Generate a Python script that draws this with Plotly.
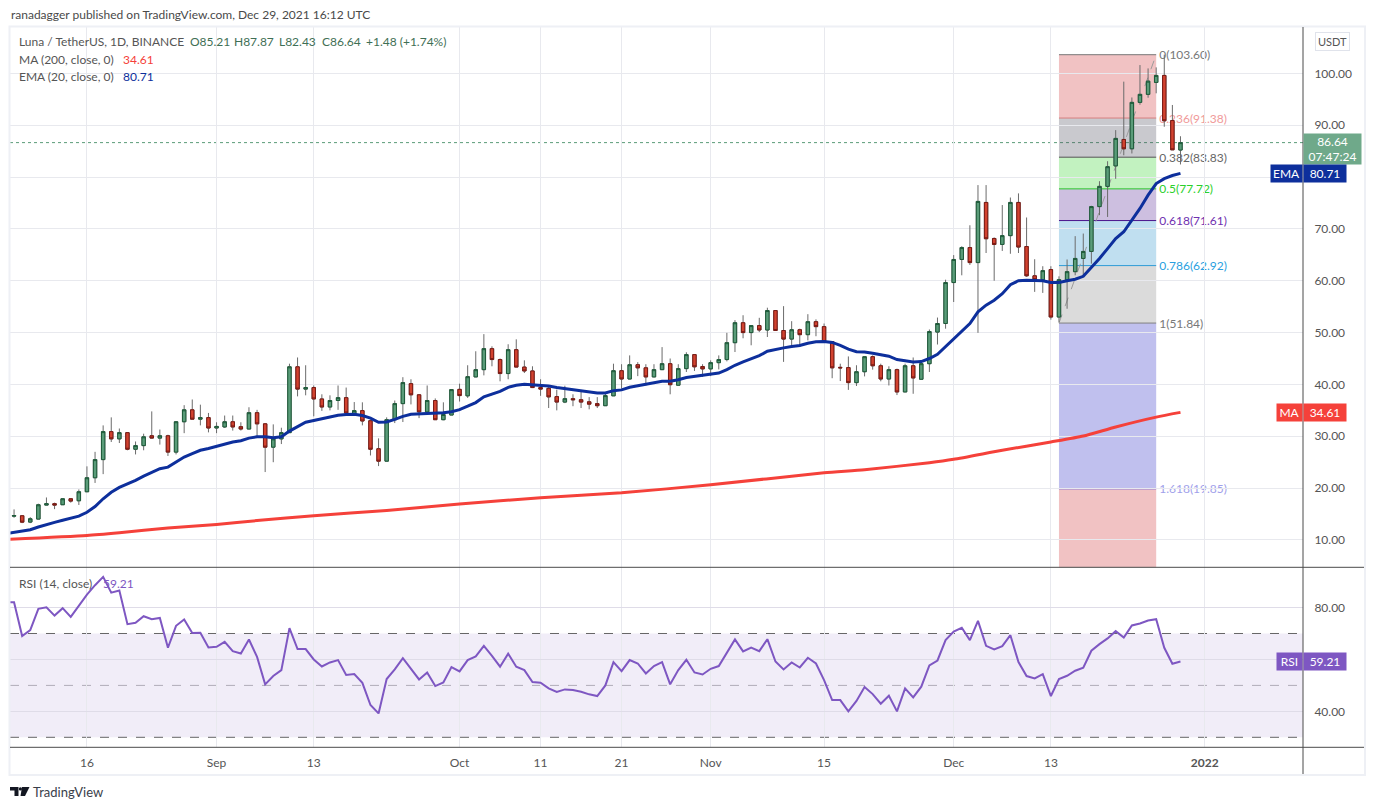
import pandas as pd
import plotly.graph_objects as go

W = 1374
H = 810
FONT = "Lato"

# daily candles, 7 Aug 2021 to 29 Dec 2021
open_px = [14.6, 14.67, 13.45, 14.03, 16.73, 17.0, 16.8, 17.95, 17.56, 19.3, 22.0, 25.5, 30.9, 29.5, 30.7, 27.5, 28.2, 30.1, 29.65, 30.1,
           26.95, 32.8, 35.1, 33.3, 33.6, 31.6, 31.8, 32.8, 31.85, 31.4, 34.55, 32.4, 27.9, 29.5, 30.7, 43.4, 39.1, 39.4, 37.2, 35.65,
           36.9, 37.45, 34.4, 34.95, 33.0, 27.6, 25.2, 33.2, 36.3, 40.15, 38.0, 34.7, 36.9, 33.2, 34.1, 39.05, 37.8, 41.45, 42.85, 46.9,
           44.8, 42.1, 46.7, 43.35, 42.6, 39.4, 39.25, 37.65, 36.6, 37.25, 37.05, 36.65, 36.3, 35.9, 37.8, 42.65, 41.05, 43.8, 43.2, 41.45,
           42.85, 44.0, 39.85, 43.05, 45.75, 43.45, 43.0, 44.2, 44.8, 48.05, 51.9, 50.0, 51.35, 50.5, 54.25, 50.4, 48.75, 50.55, 49.6, 52.1,
           51.15, 48.25, 43.3, 43.25, 40.35, 42.45, 45.35, 43.6, 41.05, 42.85, 38.55, 43.6, 41.0, 44.0, 50.1, 51.75, 59.65, 64.1, 66.4, 63.5,
           75.1, 68.15, 67.0, 68.7, 75.1, 66.6, 60.95, 60.2, 62.15, 53.0, 60.2, 61.75, 64.3, 65.65, 74.3, 78.2, 82.15, 87.25, 85.45, 94.4,
           95.95, 98.25, 99.6, 90.9, 85.21]
high_px = [15.9, 14.7, 14.4, 17.0, 18.2, 17.2, 18.0, 18.0, 19.75, 24.2, 27.0, 32.1, 33.65, 31.5, 30.8, 29.0, 30.5, 34.8, 31.3, 30.3,
           32.9, 36.0, 37.1, 36.1, 34.5, 32.7, 34.0, 34.0, 32.7, 35.6, 35.1, 32.55, 32.3, 31.65, 44.0, 45.2, 43.7, 39.8, 38.1, 37.9,
           39.8, 39.4, 36.6, 36.55, 33.1, 29.6, 33.65, 36.9, 41.4, 41.0, 38.1, 39.8, 37.3, 36.55, 39.0, 40.15, 43.7, 46.4, 49.7, 47.35,
           45.0, 47.75, 48.7, 44.65, 43.5, 41.0, 39.5, 39.0, 39.75, 38.1, 38.55, 37.55, 37.55, 38.3, 44.0, 43.9, 45.6, 44.3, 43.9, 43.9,
           47.2, 45.0, 43.9, 46.2, 45.75, 43.9, 44.65, 45.6, 49.95, 52.4, 53.35, 51.35, 52.85, 54.8, 54.25, 55.1, 52.2, 50.75, 53.55, 52.55,
           51.75, 48.25, 44.0, 45.4, 43.7, 45.35, 45.6, 44.0, 43.5, 43.05, 44.0, 45.2, 44.65, 50.6, 52.9, 60.2, 64.95, 66.65, 70.7, 78.45,
           78.45, 68.35, 74.6, 76.05, 76.85, 72.2, 64.15, 62.8, 62.8, 60.85, 64.1, 68.6, 69.1, 74.45, 79.2, 83.05, 89.05, 98.4, 95.35, 101.6,
           100.95, 101.15, 103.6, 93.9, 87.87]
low_px = [14.28, 13.25, 13.25, 14.0, 16.7, 15.95, 16.75, 17.2, 16.75, 19.3, 21.0, 22.7, 28.9, 28.7, 27.3, 26.5, 27.3, 29.6, 28.4, 26.2,
          26.5, 30.6, 33.3, 32.1, 30.75, 30.6, 31.6, 31.1, 31.1, 31.4, 29.85, 23.1, 25.0, 28.5, 30.7, 37.7, 37.9, 33.85, 34.9, 35.0,
          35.1, 34.4, 34.2, 32.1, 26.3, 24.25, 25.2, 32.55, 32.75, 36.15, 33.5, 34.1, 33.2, 33.1, 34.1, 36.7, 37.4, 41.4, 41.75, 43.5,
          40.6, 41.0, 43.35, 42.2, 39.3, 37.8, 35.45, 35.0, 36.4, 35.8, 35.45, 35.2, 35.45, 35.9, 37.8, 39.2, 41.0, 41.6, 39.8, 41.4,
          42.85, 38.1, 39.75, 42.4, 42.6, 41.45, 41.6, 42.9, 44.45, 46.25, 48.9, 47.55, 50.1, 49.15, 50.4, 44.35, 47.55, 47.25, 48.5, 49.3,
          48.25, 41.2, 40.65, 38.95, 39.7, 41.55, 42.85, 40.6, 39.8, 37.95, 38.55, 38.2, 41.0, 42.4, 47.7, 50.75, 55.9, 61.05, 63.05, 49.95,
          65.35, 60.0, 65.75, 65.2, 65.35, 60.75, 57.85, 57.65, 52.5, 52.0, 54.6, 61.05, 60.75, 63.3, 72.65, 72.3, 79.65, 84.2, 84.55, 93.95,
          95.3, 96.15, 89.7, 85.25, 82.43]
close_px = [14.7, 13.44, 14.09, 16.79, 17.0, 16.73, 17.95, 17.5, 19.3, 22.0, 25.5, 30.9, 29.5, 30.7, 27.5, 28.2, 29.9, 29.65, 30.1, 26.95,
            32.8, 35.1, 33.3, 33.6, 31.6, 31.9, 32.8, 31.8, 31.4, 34.55, 32.4, 27.9, 29.5, 30.7, 43.4, 39.1, 39.4, 37.2, 35.65, 36.9,
            37.45, 34.5, 34.95, 32.95, 27.5, 25.2, 33.2, 36.3, 40.35, 38.0, 34.7, 36.9, 33.2, 34.2, 39.0, 37.85, 41.5, 42.85, 46.9, 44.8,
            42.1, 46.7, 43.35, 42.6, 39.4, 39.1, 37.6, 36.6, 37.25, 37.05, 36.6, 36.2, 35.9, 37.85, 42.65, 41.05, 43.8, 43.2, 41.45, 42.85,
            44.0, 39.95, 43.05, 45.75, 43.4, 43.0, 44.2, 44.8, 48.05, 51.9, 50.0, 51.35, 50.5, 54.25, 50.4, 48.75, 50.55, 49.6, 52.1, 51.15,
            48.25, 43.2, 43.2, 40.35, 42.45, 45.35, 43.6, 41.05, 42.85, 38.55, 43.6, 41.25, 44.0, 50.2, 51.75, 59.65, 64.1, 66.4, 63.5, 75.3,
            68.1, 67.0, 68.7, 75.1, 66.5, 60.95, 60.2, 61.95, 53.0, 60.2, 61.75, 64.3, 65.65, 74.3, 78.2, 82.0, 87.45, 85.45, 94.4, 95.95,
            98.5, 99.6, 90.85, 85.25, 86.64]

# 20 day EMA, 6 Aug 2021 to 29 Dec 2021
ema_20 = [11.2, 11.5, 11.7, 11.97, 12.5, 13.0, 13.4, 13.8, 14.15, 14.6, 15.35, 16.45, 17.95, 19.2, 20.15, 20.8, 21.5, 22.3, 23.1, 23.75,
          24.05, 25.05, 26.0, 26.65, 27.3, 27.65, 28.05, 28.55, 28.9, 29.15, 29.65, 29.9, 29.9, 29.7, 29.9, 31.0, 31.9, 32.7, 33.05, 33.4,
          33.8, 34.05, 34.2, 34.25, 34.0, 33.5, 32.7, 32.75, 33.25, 33.85, 34.25, 34.3, 34.45, 34.45, 34.55, 34.75, 35.15, 35.8, 36.5, 37.6,
          38.2, 38.65, 39.45, 39.85, 40.05, 39.95, 39.9, 39.7, 39.4, 39.2, 39.05, 38.8, 38.55, 38.35, 38.35, 38.8, 38.95, 39.45, 39.75, 40.0,
          40.35, 40.6, 40.6, 40.9, 41.35, 41.55, 41.7, 41.95, 42.2, 42.85, 43.7, 44.35, 44.9, 45.55, 46.4, 46.8, 47.05, 47.3, 47.5, 47.95,
          48.25, 48.3, 48.1, 47.55, 46.8, 46.3, 46.25, 46.0, 45.7, 45.45, 44.8, 44.6, 44.35, 44.4, 45.0, 45.8, 47.25, 48.85, 50.25, 51.75,
          54.0, 55.3, 56.25, 57.5, 59.25, 60.0, 60.1, 60.1, 60.0, 59.65, 59.65, 60.0, 60.3, 60.85, 62.55, 64.3, 66.2, 68.15, 69.45, 71.7,
          73.95, 76.5, 78.75, 79.7, 80.3, 80.71]

# RSI 14, same dates as the EMA
rsi_14 = [82.05, 82.05, 69.0, 71.3, 79.5, 80.1, 76.9, 79.75, 76.4, 80.9, 85.0, 88.6, 91.8, 85.75, 86.55, 73.6, 74.1, 76.65, 75.5, 76.0,
          64.5, 72.95, 75.4, 70.15, 70.25, 64.6, 64.85, 66.8, 63.2, 62.3, 67.7, 61.0, 50.4, 53.6, 55.9, 72.05, 64.0, 64.0, 60.0, 57.3,
          58.85, 59.75, 54.0, 54.35, 51.0, 42.45, 39.2, 52.45, 56.15, 60.5, 56.55, 52.3, 55.0, 49.75, 51.15, 57.05, 55.4, 59.75, 61.15, 65.25,
          61.4, 57.2, 62.2, 57.2, 55.9, 51.3, 51.0, 48.85, 47.45, 48.45, 48.2, 47.55, 46.55, 45.9, 50.0, 58.95, 55.5, 59.75, 58.45, 54.6,
          57.45, 58.95, 50.4, 55.9, 59.85, 55.0, 54.2, 56.4, 57.45, 62.7, 67.7, 63.1, 64.6, 63.2, 67.8, 59.2, 56.15, 58.85, 56.9, 60.65,
          58.45, 52.05, 44.35, 44.35, 40.0, 44.0, 49.35, 46.65, 42.95, 46.0, 40.0, 48.85, 45.4, 49.5, 57.7, 59.6, 67.45, 70.75, 72.2, 67.45,
          74.85, 65.25, 63.85, 65.15, 69.35, 59.0, 53.6, 52.7, 54.35, 45.9, 52.45, 53.7, 55.65, 56.8, 63.35, 65.9, 68.1, 70.9, 68.45, 73.1,
          73.85, 75.0, 75.5, 64.5, 58.35, 59.21]

# 200 day MA is smooth, read at these dates
ma_dates = ["2021-08-06", "2021-08-16", "2021-08-20", "2021-08-26", "2021-09-01", "2021-09-06", "2021-09-13", "2021-09-22",
            "2021-10-01", "2021-10-11", "2021-10-21", "2021-11-01", "2021-11-15", "2021-11-20", "2021-11-28", "2021-12-01",
            "2021-12-07", "2021-12-13", "2021-12-17", "2021-12-21", "2021-12-26", "2021-12-29"]
ma_200 = [10.1, 10.87, 11.4, 12.3, 13.0, 13.75, 14.67, 15.7, 16.95, 18.14, 19.1, 20.65, 22.95, 23.55, 24.9, 25.55,
          27.3, 28.9, 30.05, 31.8, 33.7, 34.61]

# fib retracement drawn on the chart
fib_start = "2021-12-14"
fib_end = "2021-12-26"
fib_levels = ["0", "0.236", "0.382", "0.5", "0.618", "0.786", "1", "1.618"]
fib_prices = [103.60, 91.38, 83.83, 77.72, 71.61, 62.92, 51.84, 19.85, -31.9]
fib_fills = ["rgba(208,52,55,0.3)", "rgba(75,75,92,0.3)", "rgba(52,212,45,0.3)", "rgba(88,42,152,0.3)",
             "rgba(45,148,205,0.3)", "rgba(135,135,135,0.3)", "rgba(48,48,198,0.3)", "rgba(208,52,55,0.3)"]
fib_lines = ["#787878", "#d77e7e", "#555555", "#28c828", "#4a148c", "#2d9bd7", "#808080", "#7a70d8"]
fib_texts = ["#787878", "#f09a9a", "#666666", "#2bd02b", "#6f30b0", "#2a9fe0", "#787878", "#a0a0ea"]

tick_dates = ["2021-08-16", "2021-09-01", "2021-09-13", "2021-10-01", "2021-10-11", "2021-10-21",
              "2021-11-01", "2021-11-15", "2021-12-01", "2021-12-13", "2022-01-01"]
tick_names = ["16", "Sep", "13", "Oct", "11", "21", "Nov", "15", "Dec", "13", "<b>2022</b>"]
price_ticks = [10, 20, 30, 40, 50, 60, 70, 80, 90, 100]
price_names = ["10.00", "20.00", "30.00", "40.00", "50.00", "60.00", "70.00", "", "90.00", "100.00"]
rsi_ticks = [40, 60, 80]
rsi_names = ["40.00", "", "80.00"]

GREEN = "#5a9c79"
GREEN_D = "#1e5b3a"
RED = "#d2422f"
RED_D = "#7a1a14"
GRID = "#e8e9ee"
AXIS = "#4a4a4a"
TXT = "#555555"
BLUE = "#0d2f9c"
MAR = "#f5413a"
PURPLE = "#7e57c2"


def px(x):
    return x / W


def py(y):
    return 1 - y / H


candle_dates = pd.date_range("2021-08-07", periods=len(open_px))
line_dates = pd.date_range("2021-08-06", periods=len(ema_20))
body_high = [max(a, b) for a, b in zip(open_px, close_px)]
body_low = [min(a, b) for a, b in zip(open_px, close_px)]

fig = go.Figure()

# grey wicks first, coloured bodies on top
fig.add_trace(go.Candlestick(x=candle_dates, open=open_px, high=high_px, low=low_px, close=close_px,
                             whiskerwidth=0, showlegend=False, hoverinfo="skip",
                             increasing=dict(line=dict(color="#6b6b6b", width=1), fillcolor=GREEN),
                             decreasing=dict(line=dict(color="#6b6b6b", width=1), fillcolor=RED)))
fig.add_trace(go.Candlestick(x=candle_dates, open=open_px, high=body_high, low=body_low, close=close_px,
                             whiskerwidth=0, showlegend=False,
                             increasing=dict(line=dict(color=GREEN_D, width=1), fillcolor=GREEN),
                             decreasing=dict(line=dict(color=RED_D, width=1), fillcolor=RED)))
fig.add_trace(go.Scatter(x=pd.to_datetime(ma_dates), y=ma_200, mode="lines", showlegend=False,
                         line=dict(color=MAR, width=3, shape="spline", smoothing=0.6)))
fig.add_trace(go.Scatter(x=line_dates, y=ema_20, mode="lines", showlegend=False,
                         line=dict(color=BLUE, width=3)))
fig.add_trace(go.Scatter(x=line_dates, y=rsi_14, mode="lines", showlegend=False, xaxis="x2", yaxis="y2",
                         line=dict(color=PURPLE, width=2)))

shapes = []

# fib bands and levels
for i in range(len(fib_levels)):
    shapes.append(dict(type="rect", xref="x", yref="y", x0=fib_start, x1=fib_end,
                       y0=fib_prices[i], y1=fib_prices[i + 1], fillcolor=fib_fills[i],
                       line=dict(width=0), layer="below"))
    shapes.append(dict(type="line", xref="x", yref="y", x0=fib_start, x1=fib_end,
                       y0=fib_prices[i], y1=fib_prices[i], line=dict(color=fib_lines[i], width=1), layer="below",
                       label=dict(text=f"\u00a0{fib_levels[i]}({fib_prices[i]:.2f})", textposition="end",
                                  xanchor="left", yanchor="middle", padding=7,
                                  font=dict(family=FONT, size=12, color=fib_texts[i]))))
shapes.append(dict(type="line", xref="x", yref="y", x0=fib_start, x1=fib_end, y0=fib_prices[6], y1=fib_prices[0],
                   line=dict(color="#9a9a9a", width=1, dash="dash"), layer="below"))

# last price dotted line
shapes.append(dict(type="line", xref="x domain", yref="y", x0=0, x1=1, y0=close_px[-1], y1=close_px[-1],
                   line=dict(color=GREEN, width=1, dash="dot"), layer="below"))

# RSI band
shapes.append(dict(type="rect", xref="x2 domain", yref="y2", x0=0, x1=1, y0=30, y1=70,
                   fillcolor="rgba(126,87,194,0.11)", line=dict(width=0), layer="below"))
for lvl, col in [(70, "#666666"), (50, "#b0adb8"), (30, "#666666")]:
    shapes.append(dict(type="line", xref="x2 domain", yref="y2", x0=0, x1=1, y0=lvl, y1=lvl,
                       line=dict(color=col, width=1, dash="dash"), layer="below"))

# frame and pane rules
shapes.append(dict(type="rect", xref="paper", yref="paper", x0=px(9.5), x1=px(1365), y0=py(775), y1=py(26.5),
                   line=dict(color="#eef0f5", width=2)))
shapes.append(dict(type="line", xref="paper", yref="paper", x0=px(10), x1=px(1364), y0=py(567.3), y1=py(567.3),
                   line=dict(color=AXIS, width=1)))
shapes.append(dict(type="line", xref="paper", yref="paper", x0=px(10), x1=px(1364), y0=py(747.3), y1=py(747.3),
                   line=dict(color=AXIS, width=1)))
shapes.append(dict(type="line", xref="paper", yref="paper", x0=px(1303), x1=px(1303), y0=py(774), y1=py(27),
                   line=dict(color=AXIS, width=1)))

# logo
logo_paths = [[(10, 787), (18.5, 787), (18.5, 796), (14.5, 796), (14.5, 790.5), (10, 790.5)],
              [(22, 787), (29.5, 787), (25, 796), (20.5, 796)]]
for p in logo_paths:
    d = "M " + " L ".join(f"{px(a):.5f},{py(b):.5f}" for a, b in p) + " Z"
    shapes.append(dict(type="path", xref="paper", yref="paper", path=d, fillcolor="#131722", line=dict(width=0)))
shapes.append(dict(type="circle", xref="paper", yref="paper", x0=px(18.8), x1=px(22), y0=py(790.5), y1=py(787.3),
                   fillcolor="#131722", line=dict(width=0)))

# text
notes = []


def note(x, y, text, color=TXT, size=12, anchor="left", **kw):
    notes.append(dict(xref="paper", yref="paper", x=px(x), y=py(y), text=text, showarrow=False, xanchor=anchor,
                      yanchor="middle", font=dict(family=FONT, size=size, color=color), **kw))


def tag(x, yref, y, text, color, width):
    notes.append(dict(xref="paper", yref=yref, x=px(x), y=y, text=text, showarrow=False, xanchor="left",
                      yanchor="middle", bgcolor=color, width=width, height=13, borderpad=2,
                      font=dict(family=FONT, size=12, color="white")))


note(9, 15, "ranadagger published on TradingView.com, Dec 29, 2021 16:12 UTC", "#4a4a4a")
note(17, 42, "Luna / TetherUS, 1D, BINANCE")
for x, t in [(188, "O85.21"), (232, "H87.87"), (277, "L82.43"), (320, "C86.64"), (364, "+1.48 (+1.74%)")]:
    note(x, 42, t, "#3f6f55")
note(17, 59, "MA (200, close, 0)")
note(121, 59, "34.61", MAR)
note(17, 76, "EMA (20, close, 0)")
note(121, 76, "80.71", BLUE)
note(17, 583, "RSI (14, close)")
note(101, 583, "59.21", PURPLE)
note(31, 792, "TradingView", "#3a3e4a", 13)

notes.append(dict(xref="paper", yref="paper", x=px(1332.5), y=py(42), text="USDT", showarrow=False, xanchor="center",
                  yanchor="middle", bordercolor="#e0e3eb", borderwidth=1, borderpad=2,
                  font=dict(family=FONT, size=11, color=TXT)))
notes.append(dict(xref="paper", yref="paper", x=px(1303), y=py(149), text="86.64<br>07:47:24", showarrow=False,
                  xanchor="left", yanchor="middle", bgcolor="#6fa98a", width=53, height=26, borderpad=2,
                  font=dict(family=FONT, size=12, color="white")))
tag(1270, "y", ema_20[-1], "EMA", BLUE, 27)
tag(1303, "y", ema_20[-1], "80.71", BLUE, 38)
tag(1276, "y", ma_200[-1], "MA", MAR, 21)
tag(1303, "y", ma_200[-1], "34.61", MAR, 38)
tag(1276, "y2", rsi_14[-1], "RSI", PURPLE, 21)
tag(1303, "y2", rsi_14[-1], "59.21", PURPLE, 38)

x_range = ["2021-08-06 12:00", "2022-01-13 03:00"]
tick_font = dict(family=FONT, size=12, color=TXT)

fig.update_layout(
    width=W,
    height=H,
    margin=dict(l=0, r=0, t=0, b=0),
    paper_bgcolor="white",
    plot_bgcolor="white",
    showlegend=False,
    boxgap=0.4,
    shapes=shapes,
    annotations=notes,
    xaxis=dict(domain=[px(10), px(1303)], range=x_range, anchor="y", rangeslider=dict(visible=False),
               tickvals=tick_dates, ticktext=[""] * len(tick_dates), showgrid=True, gridcolor=GRID, zeroline=False,
               ticks=""),
    yaxis=dict(domain=[py(567.3), py(27)], range=[4.73, 108.94], anchor="x", side="right", tickvals=price_ticks,
               ticktext=price_names, showgrid=True, gridcolor=GRID, zeroline=False, ticks="outside", ticklen=8,
               tickcolor="rgba(0,0,0,0)", tickfont=tick_font),
    xaxis2=dict(domain=[px(10), px(1303)], range=x_range, anchor="y2", tickvals=tick_dates, ticktext=tick_names,
                showgrid=True, gridcolor=GRID, zeroline=False, ticks="outside", ticklen=4,
                tickcolor="rgba(0,0,0,0)", tickfont=tick_font),
    yaxis2=dict(domain=[py(747.3), py(567.3)], range=[26.15, 95.5], anchor="x2", side="right", tickvals=rsi_ticks,
                ticktext=rsi_names, showgrid=True, gridcolor="#dfdce8", zeroline=False, ticks="outside", ticklen=8,
                tickcolor="rgba(0,0,0,0)", tickfont=tick_font),
)

# browser body margin would push the fixed size figure off by 8px
fig.write_html("out.html", config={"displayModeBar": False}, post_script="document.body.style.margin='0';")
